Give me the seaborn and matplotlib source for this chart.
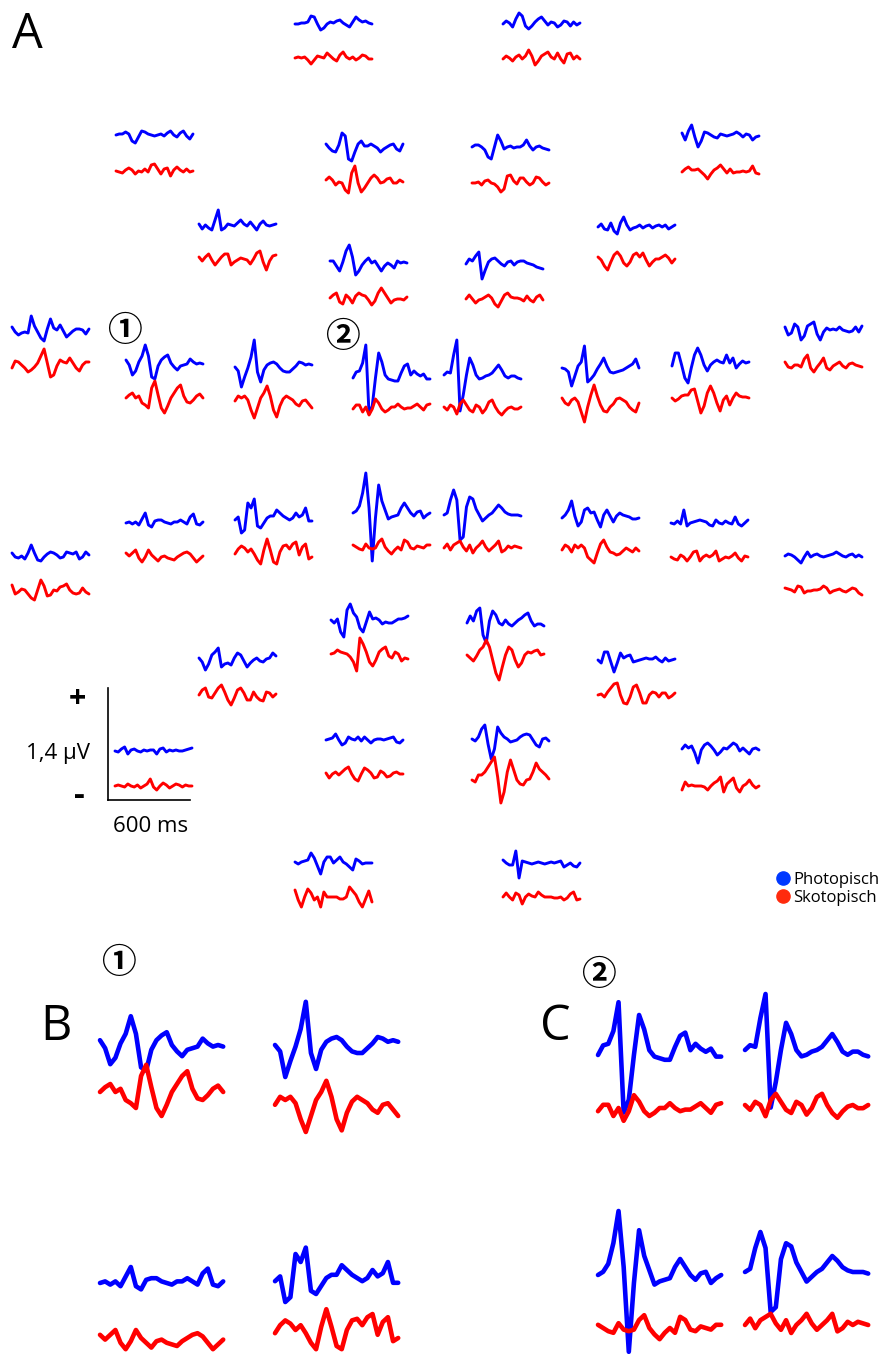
import numpy as np
import pandas as pd
import matplotlib
matplotlib.use("Agg")
import matplotlib.pyplot as plt
import seaborn as sns
from matplotlib.lines import Line2D

# ---------------- data ----------------
TIME_MS = [0, 25, 50, 75, 100, 125, 150, 175, 200, 225, 250, 275, 300,
           325, 350, 375, 400, 425, 450, 475, 500, 525, 550, 575, 600]
AMP_STEP_UV = 0.0125   # amplitude lists below are in steps of 12.5 nV

B01 = [0,0,1,1,2,8,7,0,-6,-4,0,2,1,3,4,1,-1,-3,2,7,4,2,3,1,0]
R01 = [0,1,0,1,-2,-6,-2,2,1,0,5,2,-1,-3,3,6,1,-1,1,-2,0,3,2,-1,-1]
B02 = [0,3,1,-3,5,11,8,-2,-5,-2,2,5,7,3,-1,2,1,-3,-1,3,2,-2,2,-1,1]
R02 = [0,3,1,-2,2,4,0,3,9,3,-6,-2,3,5,7,2,0,6,0,-4,5,6,0,3,0]
B03 = [0,1,1,3,1,-6,-8,-2,4,3,1,0,-1,0,1,-1,2,4,0,-2,2,4,-1,-4,1]
R03 = [0,-1,-2,1,3,1,-3,0,-1,2,-1,6,7,2,-3,2,3,-5,1,4,1,-1,2,-1,0]
B04 = [3,-1,-4,-5,2,14,11,-12,-14,-5,3,6,1,1,3,1,-1,-5,-2,0,2,3,-2,-4,3]
R04 = [0,3,0,-5,-2,-3,-10,-13,7,14,-3,-12,-8,-3,2,5,2,-3,-2,1,2,-3,-3,0,-2]
B05 = [0,2,2,0,-3,-10,-12,0,12,6,-2,0,1,-1,0,0,2,7,1,-3,0,1,-1,-2,-3]
R05 = [0,0,1,-2,2,3,0,-1,-4,-9,-6,7,8,2,-1,5,5,1,-2,0,6,5,1,-2,0]
B06 = [2,-5,4,10,-2,-12,-6,3,2,0,-2,-3,1,0,-1,0,1,3,1,-2,1,0,-5,-2,-1]
R06 = [0,3,5,2,2,3,0,-3,-7,-2,2,4,7,3,-1,3,-1,0,0,1,0,1,6,-1,-2]
B07 = [1,-4,0,-3,-5,5,15,-5,-3,1,0,-1,2,5,1,-1,3,-1,-5,1,4,0,-1,0,1]
R07 = [1,-3,1,4,-2,-7,-3,1,4,4,-7,-4,-2,0,-1,-2,-6,-1,5,7,-4,-12,-3,2,3]
B08 = [0,3,-2,-3,4,-4,-7,4,10,2,-3,-1,0,2,-1,1,2,-1,1,2,0,2,-2,0,2]
R08 = [1,-2,-8,-12,-4,3,6,2,-5,-8,-4,3,5,1,5,-2,-8,-4,-1,-1,1,3,0,-5,-1]
B09 = [2,2,-3,-8,1,12,18,6,-12,-8,-2,2,5,0,2,-3,-8,-3,0,-2,-5,2,0,1,0]
R09 = [0,3,5,-4,-6,3,0,-5,2,5,3,2,-2,-7,-3,5,10,5,0,-5,-2,-1,-1,-2,1]
B10 = [0,5,3,8,12,-15,-6,2,5,6,3,0,-2,2,3,-1,2,3,3,1,0,-1,-3,-4,-5]
R10 = [0,4,0,-4,-1,0,2,4,1,-5,-8,-2,4,6,2,1,1,0,-2,3,-1,-3,2,4,-1]
B11 = [5,0,-3,-1,0,-1,16,6,0,-6,-9,3,13,4,2,7,1,-5,-2,1,3,3,2,-2,3]
R11 = [-3,4,3,0,-3,-7,-5,-2,2,9,16,2,-12,-10,-1,5,3,2,7,2,-3,-6,0,3,3]
B12 = [3,-2,-12,-8,1,7,18,7,-14,-16,-3,3,6,8,0,-4,-7,-3,-2,-1,4,1,-1,0,-1]
R12 = [0,3,5,0,2,-5,-7,-10,10,17,3,-10,-15,-8,0,5,10,13,2,-4,-5,-2,2,4,0]
B13 = [0,-4,-20,-10,-1,10,27,-5,-15,-3,2,4,5,3,-1,-4,-5,-5,-2,1,5,4,2,3,2]
R13 = [-3,2,0,2,-2,-12,-20,-10,0,5,12,2,-12,-19,-8,-1,2,0,-2,-6,-8,-3,-2,-6,-10]
B14 = [0,6,7,15,33,-36,-28,0,25,16,3,-1,-2,-3,-3,5,12,14,3,7,4,2,4,-1,-1]
R14 = [-2,2,2,-5,0,-8,-2,8,4,-2,-5,-3,0,0,3,0,-2,-1,-1,1,3,0,-3,2,3]
B15 = [0,3,2,20,35,-36,-20,0,17,10,0,-4,-3,-1,0,2,6,10,5,-1,-3,-1,-1,-3,-4]
R15 = [0,-3,2,0,-7,3,7,2,-3,-5,2,0,-6,-2,5,7,0,-5,-8,-4,-1,0,-2,-2,0]
B16 = [4,3,0,-14,-4,6,10,26,-10,-7,-3,3,8,14,6,0,-1,0,1,2,4,6,8,13,4]
R16 = [4,-1,-3,2,4,0,-10,-20,-5,7,17,6,-3,-9,-10,-5,-2,3,4,2,0,-5,-8,-10,-1]
B17 = [-3,10,10,-2,-15,-20,-5,8,15,8,-2,-8,-2,1,3,1,0,8,0,5,-5,-1,2,0,1]
R17 = [0,-3,-1,2,3,3,8,9,-3,-15,-8,5,12,5,-5,-13,-2,2,-7,0,5,2,1,1,0]
B18 = [3,-5,-3,6,3,-10,-6,4,6,8,-4,-10,-2,2,0,1,0,3,0,-1,-2,-1,3,-2,4]
R18 = [3,-2,-3,0,0,-2,6,10,-3,-7,-2,2,7,-3,-5,-1,1,3,-1,-3,1,2,0,-1,-2]
B19 = [0,1,-1,1,-2,4,10,-2,-4,2,3,3,1,0,-1,1,1,3,1,-1,6,9,-1,-2,1]
R19 = [2,-1,2,5,-3,-7,-2,5,0,-3,-6,-2,-1,-3,-4,-5,-2,0,2,3,1,-3,-7,-4,-1]
B20 = [-2,1,-15,-12,15,10,19,-8,-10,-5,0,2,2,8,5,2,0,-2,0,5,1,3,10,-3,-3]
R20 = [-2,3,6,4,0,3,-2,-8,-12,2,13,2,-10,-12,0,6,7,3,8,10,-3,5,8,-7,-5]
B21 = [0,2,7,20,40,5,-48,-5,28,12,3,-6,-4,-3,-2,5,10,5,0,-3,1,2,-5,-2,0]
R21 = [2,0,-2,-3,3,-1,-2,-1,5,8,0,-4,-7,-3,0,-3,7,5,-1,-2,1,0,-1,2,2]
B22 = [0,2,15,25,15,-25,-22,8,18,16,6,0,-6,-3,0,2,6,10,7,3,1,0,0,0,-1]
R22 = [0,4,-2,3,5,7,1,-3,3,-5,0,3,7,1,-3,0,3,7,-4,-2,2,0,2,1,0]
B23 = [0,3,8,17,2,-8,-4,8,10,5,6,-2,-9,3,8,2,-4,2,5,3,2,1,-1,-1,0]
R23 = [0,5,3,-2,5,2,5,2,-7,-10,-13,-3,6,10,3,-2,-3,-5,-4,-1,2,0,-2,2,-1]
B24 = [0,-1,2,-1,13,-3,0,1,2,3,2,1,-2,-3,3,0,-1,2,0,-1,6,-1,-3,0,3]
R24 = [0,-2,-3,2,0,-4,0,5,6,-4,0,2,0,2,6,-4,-2,0,-1,1,4,-1,-4,1,0]
B25 = [2,-2,-3,-1,-4,2,10,2,-5,-6,-2,1,3,2,0,-3,-2,3,2,1,3,-4,-2,3,0]
R25 = [7,-2,0,3,2,-2,-6,-8,2,12,6,-4,-3,2,1,5,6,8,2,-1,-2,-1,4,0,-2]
B26 = [0,2,1,-1,-4,-7,-1,4,-1,1,2,0,-1,0,1,2,4,2,0,-1,1,2,-1,1,-1]
R26 = [2,1,0,-2,4,3,-3,-1,-1,0,0,1,4,2,-3,-1,0,1,-1,-2,0,2,1,-3,-5]
B27 = [2,-1,3,-10,-15,12,18,9,5,-6,-10,0,10,3,4,2,-2,0,-1,-1,1,3,3,4,6]
R27 = [0,1,4,2,1,0,-3,-8,-17,16,10,2,-8,-12,-6,2,5,7,-2,-4,2,0,-7,-4,-5]
B28 = [0,7,2,12,15,-12,-20,2,12,8,0,-2,3,-1,-3,0,3,5,8,10,2,-3,-1,-1,-3]
R28 = [0,-3,-6,-1,5,8,15,8,-5,-18,-25,-12,0,8,5,-5,-12,-8,0,3,2,4,5,0,1]
B29 = [2,-2,-10,-4,5,8,12,-7,-4,-3,-5,2,7,5,-1,-7,-3,0,2,-1,-2,1,2,7,4]
R29 = [0,5,7,-2,-3,2,7,10,3,-5,-10,-3,5,7,2,-5,-5,3,-2,-5,-6,3,2,-2,1]
B30 = [0,-3,8,8,-2,-12,-3,7,2,4,5,-2,-1,0,1,2,1,1,3,0,-2,2,-1,0,1]
R30 = [0,1,-2,3,7,11,12,0,-8,-9,-2,8,10,2,-8,-8,0,3,2,-2,2,2,-3,-1,2]
B31 = [0,-1,2,4,-3,1,2,0,-1,1,0,1,1,-3,2,3,-1,1,0,1,0,0,1,2,3]
R31 = [0,1,0,-1,2,0,-1,1,-2,0,2,7,-1,-4,0,3,1,-2,0,2,1,-1,1,0,0]
B32 = [0,1,2,6,0,-5,-3,3,1,0,3,-1,3,0,-3,0,1,1,0,1,2,3,-2,-3,0]
R32 = [2,-3,1,3,0,3,6,8,1,-4,-6,1,7,5,2,-3,-2,4,2,-2,-1,2,3,1,1]
B33 = [0,-2,2,10,14,-5,-20,-10,12,6,2,0,-3,-2,-1,2,4,5,4,-1,-6,-8,0,1,-2]
R33 = [-3,-5,2,2,5,10,15,20,0,-26,-15,5,17,7,-3,-7,-8,-3,-2,5,14,8,5,2,-2]
B34 = [-1,3,0,2,-5,-15,-2,3,5,2,-2,-7,-4,0,-1,2,5,3,-3,0,-3,-6,-1,0,-2]
R34 = [-4,4,0,1,0,0,0,-1,-4,0,3,5,9,-6,2,5,8,-2,-6,0,2,6,1,-2,0]
B35 = [1,-1,1,2,3,10,5,-3,-11,1,6,6,0,3,6,1,-1,-4,-7,4,2,-1,0,0,0]
R35 = [7,-3,-10,0,8,4,-3,0,-10,5,0,0,0,0,-2,-2,0,10,6,2,-5,-10,-2,6,-5]
B36 = [3,0,-2,-2,12,-15,2,1,0,-1,0,1,0,-1,0,1,0,1,2,-4,-2,0,-3,-4,0]
R36 = [0,4,0,-3,4,2,-7,0,3,1,0,5,2,0,0,0,-1,-1,0,-3,-1,3,5,-3,-2]

BLUE_SETS = [B01, B02, B03, B04, B05, B06, B07, B08, B09, B10, B11, B12,
             B13, B14, B15, B16, B17, B18, B19, B20, B21, B22, B23, B24,
             B25, B26, B27, B28, B29, B30, B31, B32, B33, B34, B35, B36]
RED_SETS = [R01, R02, R03, R04, R05, R06, R07, R08, R09, R10, R11, R12,
            R13, R14, R15, R16, R17, R18, R19, R20, R21, R22, R23, R24,
            R25, R26, R27, R28, R29, R30, R31, R32, R33, R34, R35, R36]

COND_LABELS = ["Photopisch", "Skotopisch"]
SCALE_T_MS = 600
SCALE_AMP_UV = 1.4

# ---------------- layout (pixels) ----------------
# field, x-left, blue baseline y, red baseline y
LAYOUT_A = [
    (1, 295, 24, 58), (2, 503, 24, 59),
    (3, 116, 135, 171), (4, 326, 147, 180), (5, 472, 147, 183), (6, 682, 135, 172),
    (7, 199, 225, 258), (8, 598, 227, 258),
    (9, 330, 263, 298), (10, 466, 264, 299),
    (11, 12, 332, 365), (12, 126, 363, 398), (13, 235, 367, 398),
    (14, 353, 378, 407), (15, 444, 375, 407), (16, 562, 372, 402),
    (17, 672, 363, 398), (18, 785, 330, 365),
    (19, 126, 523, 555), (20, 235, 518, 552), (21, 353, 513, 547),
    (22, 444, 515, 548), (23, 562, 518, 550), (24, 671, 523, 557),
    (25, 12, 555, 592), (26, 785, 556, 590),
    (27, 331, 622, 654), (28, 467, 623, 655),
    (29, 199, 660, 695), (30, 598, 660, 695),
    (31, 115, 751, 786), (32, 326, 740, 775), (33, 472, 739, 777), (34, 682, 748, 786),
    (35, 295, 863, 897), (36, 503, 863, 897),
]
ZOOM = 1.6
LAYOUT_BC = [
    (12, 100, 1045, 1092), (13, 275, 1045, 1100),
    (19, 100, 1283, 1338), (20, 275, 1278, 1330),
    (14, 598, 1055, 1108), (15, 745, 1050, 1105),
    (21, 598, 1275, 1328), (22, 745, 1272, 1325),
]

W, H = 882, 1356
TRACE_W = 77          # px for 600 ms in panel A
PX_PER_UV = 80        # px per µV in panel A
HALF = 70             # half height of trace axes (px at scale 1)

# ---------------- build data frame ----------------
rows = []
for field, (bl, rd) in enumerate(zip(BLUE_SETS, RED_SETS), start=1):
    assert len(bl) == len(TIME_MS) and len(rd) == len(TIME_MS), field
    for cond, vals in zip(COND_LABELS, (bl, rd)):
        for t, v in zip(TIME_MS, vals):
            rows.append((field, cond, t, v * AMP_STEP_UV))
df = pd.DataFrame(rows, columns=["field", "cond", "t_ms", "uv"])

sns.set_theme(style="white")
plt.rcParams["font.family"] = ["Open Sans", "DejaVu Sans", "Noto Sans CJK JP"]
plt.rcParams["text.color"] = "black"

COLORS = {"Photopisch": "#0000ff", "Skotopisch": "#ff0000"}
fig = plt.figure(figsize=(W / 100, H / 100), dpi=100)


def trace_axes(x_left, y_base, scale):
    w = TRACE_W * scale
    half = HALF * scale
    ax = fig.add_axes([x_left / W, 1 - (y_base + half) / H, w / W, 2 * half / H])
    ax.set_xlim(0, SCALE_T_MS)
    lim = HALF / PX_PER_UV
    ax.set_ylim(-lim, lim)
    ax.set_axis_off()
    ax.patch.set_alpha(0)
    return ax


def draw(field, cond, x, y, scale, lw):
    ax = trace_axes(x, y, scale)
    sub = df[(df.field == field) & (df.cond == cond)]
    sns.lineplot(data=sub, x="t_ms", y="uv", ax=ax, color=COLORS[cond],
                 lw=lw, estimator=None, sort=False, legend=False,
                 clip_on=False, solid_capstyle="round", solid_joinstyle="round")


for field, x, yb, yr in LAYOUT_A:
    draw(field, "Photopisch", x, yb, 1.0, 2.1)
    draw(field, "Skotopisch", x, yr, 1.0, 2.1)
for field, x, yb, yr in LAYOUT_BC:
    draw(field, "Photopisch", x, yb, ZOOM, 3.3)
    draw(field, "Skotopisch", x, yr, ZOOM, 3.3)

# ---------------- scale bar (an axes: 600 ms x 1.4 µV) ----------------
sb_w = 82
sb_h = SCALE_AMP_UV * PX_PER_UV
sb = fig.add_axes([108 / W, 1 - 800 / H, sb_w / W, sb_h / H])
sb.set_xlim(0, SCALE_T_MS)
sb.set_ylim(0, SCALE_AMP_UV)
sb.set_xticks([]); sb.set_yticks([])
sb.patch.set_alpha(0)
sns.despine(ax=sb)
for s in ("left", "bottom"):
    sb.spines[s].set_color("black")
    sb.spines[s].set_linewidth(1.2)

# ---------------- text overlay ----------------
ov = fig.add_axes([0, 0, 1, 1])
ov.set_xlim(0, W); ov.set_ylim(H, 0)
ov.set_axis_off(); ov.patch.set_alpha(0)

ov.text(12, 48, "A", fontsize=35, ha="left", va="baseline", color="black")
ov.text(40, 1040, "B", fontsize=35, ha="left", va="baseline", color="black")
ov.text(540, 1040, "C", fontsize=35, ha="left", va="baseline", color="black")

circ = ["Noto Sans CJK JP", "DejaVu Sans"]
for (cx, cy, ch) in [(124, 331, "\u2460"), (342, 337, "\u2461"),
                     (118, 962, "\u2460"), (598, 975, "\u2461")]:
    ov.text(cx, cy, ch, fontsize=25, fontweight="bold", ha="center",
            va="center", family=circ, color="black")

ov.text(77, 699, "+", fontsize=22, fontweight="bold", ha="center", va="center", color="black")
ov.text(79, 797, "-", fontsize=24, fontweight="bold", ha="center", va="center", color="black")
ov.text(90, 759, "1,4 \u00b5V", fontsize=16, ha="right", va="baseline", color="black")
ov.text(151, 832, "600 ms", fontsize=16, ha="center", va="baseline", color="black")

handles = [Line2D([], [], ls="", marker="o", ms=9.5, color="#0038ff"),
           Line2D([], [], ls="", marker="o", ms=9.5, color="#ff2b0d")]
leg = fig.legend(handles, COND_LABELS, loc="center left",
                 bbox_to_anchor=(776 / W, 1 - 889 / H), frameon=False, fontsize=12,
                 handlelength=0.8, handletextpad=0.25, borderpad=0, borderaxespad=0,
                 labelspacing=0.15)
for t in leg.get_texts():
    t.set_color("black")

fig.savefig("out.png", dpi=100, facecolor="white")
